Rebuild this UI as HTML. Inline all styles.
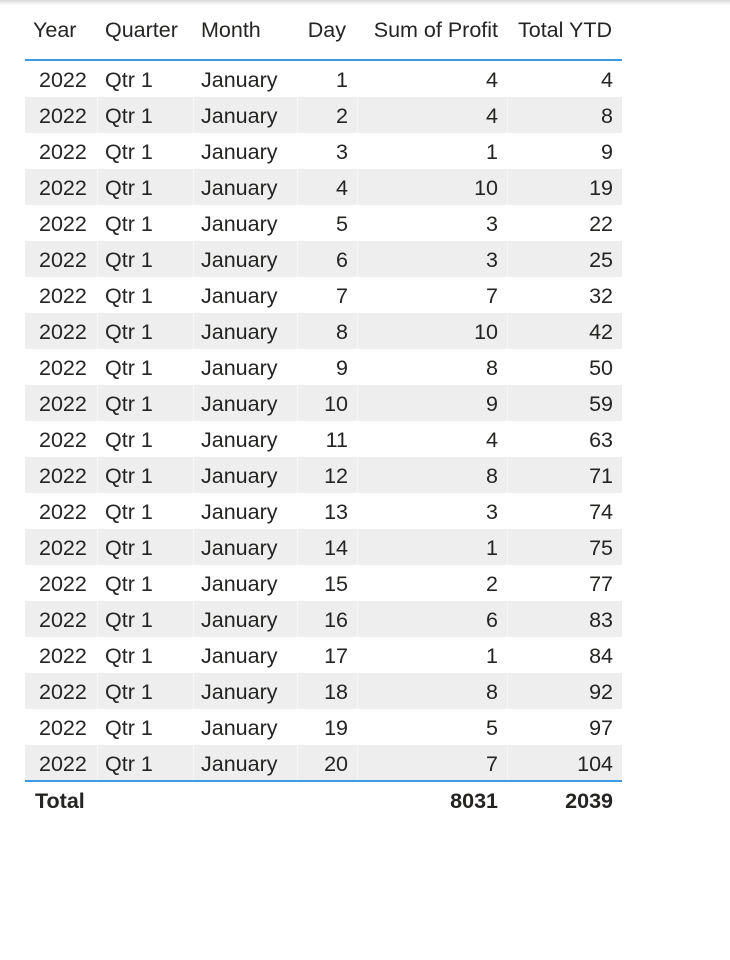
<!DOCTYPE html>
<html><head><meta charset="utf-8"><style>
body{margin:0;width:730px;height:960px;background:#fff;font-family:"Liberation Sans","DejaVu Sans",sans-serif;color:#252423;position:relative;overflow:hidden}
.shadow{position:absolute;left:0;top:0;width:730px;height:5px;background:linear-gradient(#d8d8d8,#fff)}
.c{position:absolute;font-size:21.5px;line-height:36px;height:36px;white-space:nowrap}
.r{text-align:right}
.row{position:absolute;left:25px;width:597px;height:36px}
.g{background:#eeeeee}
.hl{position:absolute;left:25px;width:597px;height:2px;background:#3b99e6}
.vl{position:absolute;width:1px;background:#f6f6f6}
</style></head><body>
<div class="shadow"></div>
<div id="t"></div>
<script>
const days=[1,2,3,4,5,6,7,8,9,10,11,12,13,14,15,16,17,18,19,20];
const profit=[4,4,1,10,3,3,7,10,8,9,4,8,3,1,2,6,1,8,5,7];
const ytd=[4,8,9,19,22,25,32,42,50,59,63,71,74,75,77,83,84,92,97,104];
const totals=["8031","2039"];
const headers=["Year","Quarter","Month","Day","Sum of Profit","Total YTD"];
const t=document.getElementById('t');
function cell(txt,x,y,right,name,bold){
  const d=document.createElement('div');
  d.className='c'+(right?' r':'');
  d.textContent=txt;
  if(right){d.style.left=(x-200)+'px';d.style.width='200px';}else d.style.left=x+'px';
  d.style.top=y+'px';
  if(bold)d.style.fontWeight='bold';
  
  
  t.appendChild(d);
}
const hx=[33,105,201,346,498,612];const hr=[0,0,0,1,1,1];
headers.forEach((h,i)=>{cell(h,hx[i],12,hr[i],'header-'+h.toLowerCase().replace(/ /g,'-'));});
const top0=61,rh=36;
days.forEach((d,i)=>{
  const y=top0+i*rh;
  const rw=document.createElement('div');
  rw.className='row'+(i%2?' g':'');
  rw.style.top=y+'px';
  
  
  t.appendChild(rw);
  if(i%2){[97,193,297,357,507].forEach(vx=>{const v=document.createElement('div');v.className='vl';v.style.left=vx+'px';v.style.top=y+'px';v.style.height=rh+'px';t.appendChild(v);});}
  const ty=y+1;
  cell('2022',39,ty,0,'year-cell');
  cell('Qtr 1',105,ty,0,'quarter-cell');
  cell('January',201,ty,0,'month-cell');
  cell(String(d),348,ty,1,'day-cell');
  cell(String(profit[i]),498,ty,1,'profit-cell');
  cell(String(ytd[i]),613,ty,1,'ytd-cell');
});
const hl1=document.createElement('div');hl1.className='hl';hl1.style.top='59px';


t.appendChild(hl1);
const hl2=document.createElement('div');hl2.className='hl';hl2.style.top=(top0+days.length*rh-1)+'px';


t.appendChild(hl2);
const ty=top0+days.length*rh+2;
cell('Total',35,ty,0,'total-label',1);
cell(totals[0],498,ty,1,'total-profit',1);
cell(totals[1],613,ty,1,'total-ytd',1);
</script>
</body></html>
